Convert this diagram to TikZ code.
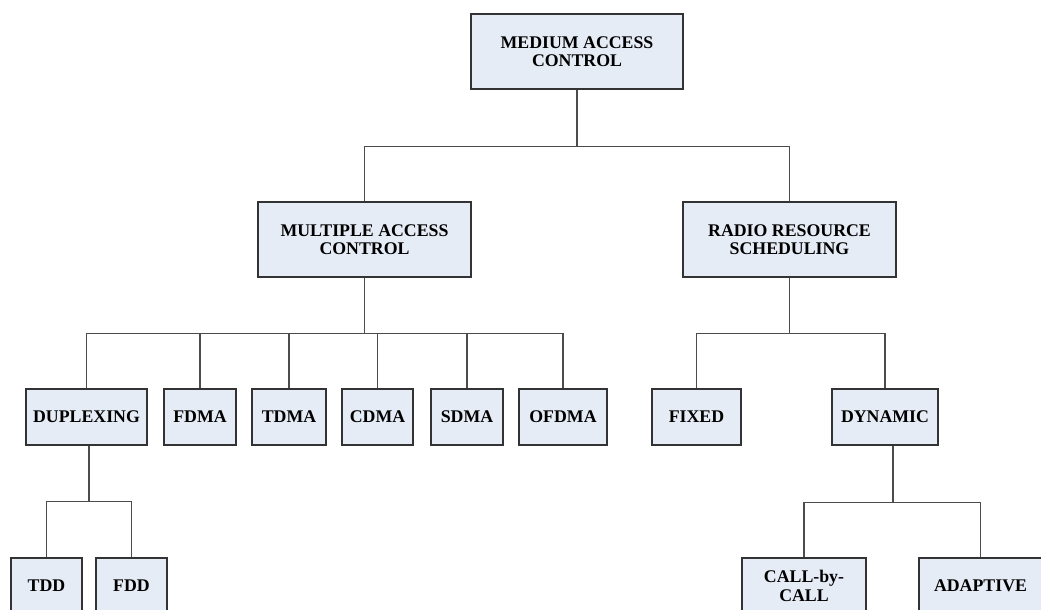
\documentclass[tikz,border=0pt]{standalone}
\usepackage{fontspec}
\setmainfont{Liberation Serif}
\begin{document}
\begin{tikzpicture}[x=1pt,y=-1pt,
  box/.style={draw=black!80, fill=boxfill, line width=1.3pt, align=center,
    inner sep=0pt, font=\fontsize{17.8}{18.5}\selectfont\bfseries},
  conn/.style={draw=black!70, line width=1.1pt}]
\definecolor{boxfill}{RGB}{230,236,246}
\useasboundingbox (0,0) rectangle (1041,610);
\begin{scope}
\clip (0,0) rectangle (1041,610);
% level 0
\node[box, minimum width=212, minimum height=75] (medium) at (577,51.5) {MEDIUM ACCESS\\CONTROL};
% level 1
\node[box, minimum width=213, minimum height=75] (mac) at (364.5,239.5) {MULTIPLE ACCESS\\CONTROL};
\node[box, minimum width=213, minimum height=75] (rrs) at (789.5,239.5) {RADIO RESOURCE\\SCHEDULING};
% level 2
\node[box, minimum width=121, minimum height=56] (dup) at (86.5,417) {DUPLEXING};
\node[box, minimum width=72, minimum height=56] (fdma) at (200,417) {FDMA};
\node[box, minimum width=74, minimum height=56] (tdma) at (289,417) {TDMA};
\node[box, minimum width=71, minimum height=56] (cdma) at (377.5,417) {CDMA};
\node[box, minimum width=72, minimum height=56] (sdma) at (467,417) {SDMA};
\node[box, minimum width=88, minimum height=56] (ofdma) at (563,417) {OFDMA};
\node[box, minimum width=89, minimum height=56] (fixed) at (696.5,417) {FIXED};
\node[box, minimum width=106, minimum height=56] (dyn) at (885,417) {DYNAMIC};
% level 3
\node[box, minimum width=71, minimum height=56] (tdd) at (46.5,586) {TDD};
\node[box, minimum width=71, minimum height=56] (fdd) at (131.5,586) {FDD};
\node[box, minimum width=124, minimum height=56] (call) at (804,586) {CALL-by-\\CALL};
\node[box, minimum width=123, minimum height=56] (adapt) at (980.5,586) {ADAPTIVE};
% connectors
\foreach \c in {mac,rrs}
  \draw[conn] (medium.south) -- ++(0,57) -| (\c.north);
\foreach \c in {dup,fdma,tdma,cdma,sdma,ofdma}
  \draw[conn] (mac.south) -- ++(0,56) -| (\c.north);
\foreach \c in {fixed,dyn}
  \draw[conn] (rrs.south) -- ++(0,56) -| (\c.north);
\foreach \c in {tdd,fdd}
  \draw[conn] ([xshift=2.5pt]dup.south) -- ++(0,56) -| (\c.north);
\foreach \c in {call,adapt}
  \draw[conn] ([xshift=8pt]dyn.south) -- ++(0,57) -| (\c.north);
\end{scope}
\end{tikzpicture}
\end{document}
